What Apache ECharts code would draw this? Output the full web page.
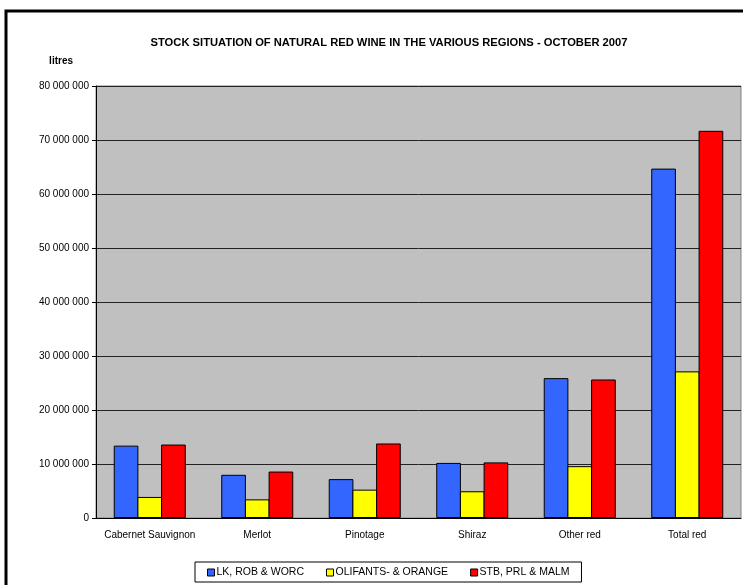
<!DOCTYPE html>
<html>
<head>
<meta charset="utf-8">
<script src="https://cdn.jsdelivr.net/npm/echarts@6/dist/echarts.min.js"></script>
<style>
  html, body { margin: 0; padding: 0; background: #fff; overflow: hidden; }
  #chart { width: 743px; height: 585px; }
</style>
</head>
<body>
<div id="chart"></div>
<script>
// stock per grape type, litres (Oct 2007)
const categories = ['Cabernet Sauvignon', 'Merlot', 'Pinotage', 'Shiraz', 'Other red', 'Total red'];
const lkRobWorc = [13400000, 8000000, 7200000, 10200000, 25900000, 64700000];
const olifantsOrange = [3900000, 3450000, 5250000, 4950000, 9600000, 27150000];
const stbPrlMalm = [13600000, 8600000, 13800000, 10300000, 25650000, 71700000];
const seriesNames = ['LK, ROB & WORC', 'OLIFANTS- & ORANGE', 'STB, PRL & MALM'];
const seriesColors = ['#3366FF', '#FFFF00', '#FF0000'];

const FONT = "'Liberation Sans', Arial, sans-serif";

const chart = echarts.init(document.getElementById('chart'));

// 80 000 000 style labels
const fmt = v => String(v).replace(/\B(?=(\d{3})+(?!\d))/g, ' ');

const option = {
  animation: false,
  textStyle: { fontFamily: FONT, color: '#000' },
  title: {
    text: 'STOCK SITUATION OF NATURAL RED WINE IN THE VARIOUS REGIONS - OCTOBER 2007',
    left: 384,
    top: 32,
    textAlign: 'center',
    textStyle: { fontFamily: FONT, fontSize: 11.2, fontWeight: 'bold', color: '#000' },
  },
  graphic: [
    {
      type: 'rect',
      shape: { x: 6, y: 11, width: 900, height: 800 },
      style: { fill: null, stroke: '#000', lineWidth: 3 },
      silent: true,
      z: 100,
    },
  ],
  legend: {
    left: 195,
    top: 562,
    padding: [5, 12, 4, 12],
    borderColor: '#000',
    borderWidth: 1,
    itemGap: 22,
    itemWidth: 7,
    itemHeight: 7,
    icon: 'rect',
    textStyle: { fontFamily: FONT, fontSize: 10.5, color: '#000', padding: [0, 0, 0, -3] },
    data: seriesNames.map((n, i) => ({
      name: n,
      itemStyle: { color: seriesColors[i], borderColor: '#000', borderWidth: 1 },
    })),
  },
  grid: {
    left: 96,
    right: 2,
    top: 86,
    bottom: 67,
    show: true,
    backgroundColor: '#C0C0C0',
    borderColor: '#808080',
    borderWidth: 1,
  },
  xAxis: {
    type: 'category',
    data: categories,
    axisLine: { lineStyle: { color: '#000', width: 1 } },
    axisTick: { length: 4, lineStyle: { color: '#000' } },
    axisLabel: { fontFamily: FONT, fontSize: 10, color: '#000', margin: 12, interval: 0 },
  },
  yAxis: {
    type: 'value',
    min: 0,
    max: 80000000,
    interval: 10000000,
    name: 'litres',
    nameLocation: 'end',
    nameGap: 20,
    nameTextStyle: { fontFamily: FONT, fontSize: 10, fontWeight: 'bold', color: '#000', align: 'right', padding: [0, 23, 0, 0] },
    axisLine: { show: true, lineStyle: { color: '#000', width: 1 } },
    axisTick: { show: true, length: 4, lineStyle: { color: '#000' } },
    axisLabel: { fontFamily: FONT, fontSize: 10, color: '#000', margin: 7, formatter: fmt },
    splitLine: { lineStyle: { color: '#222', width: 1 } },
  },
  series: [lkRobWorc, olifantsOrange, stbPrlMalm].map((d, i) => ({
    name: seriesNames[i],
    type: 'bar',
    data: d,
    barGap: '-4%',
    barCategoryGap: '33%',
    itemStyle: { color: seriesColors[i], borderColor: '#000', borderWidth: 1 },
  })),
};

chart.setOption(option);
</script>
</body>
</html>
